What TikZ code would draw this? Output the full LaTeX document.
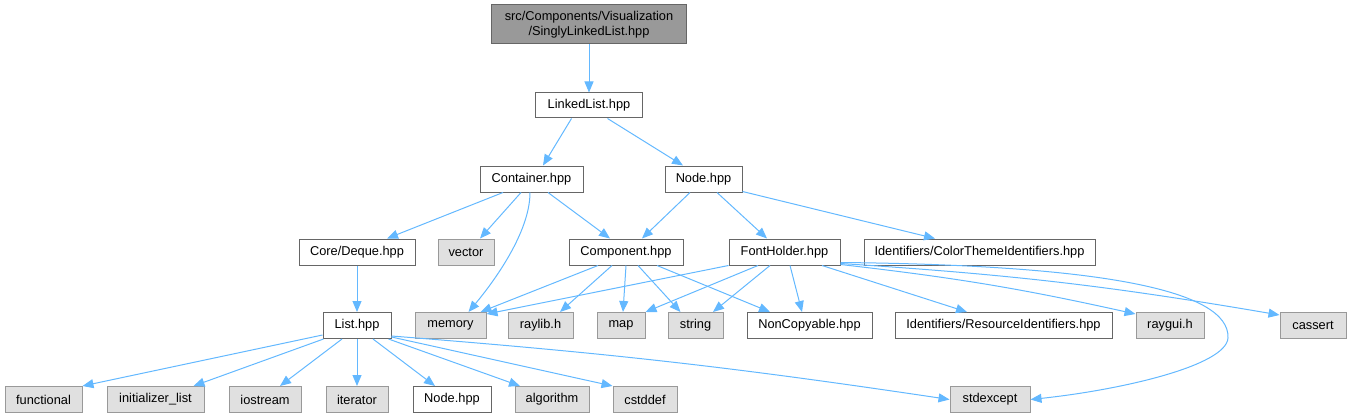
\documentclass[tikz,border=0pt]{standalone}
\usepackage{fontspec}
\setmainfont{Liberation Sans}
\usetikzlibrary{arrows.meta,calc}
\definecolor{cEdge}{HTML}{63B8FF}
\definecolor{cDark}{HTML}{666666}
\definecolor{cMid}{HTML}{999999}
\definecolor{cLight}{HTML}{E0E0E0}
\tikzset{
  base/.style={draw, line width=1pt, minimum height=26pt, inner sep=0pt,
    font=\fontsize{12.8}{15}\selectfont, text=black},
  intern/.style={base, draw=cDark, fill=white},
  ext/.style={base, draw=cMid, fill=cLight},
  rootnode/.style={base, draw=cDark, fill=cMid},
  edge/.style={draw=cEdge, line width=1pt, -{Triangle[length=11pt,width=9pt]}}
}
\begin{document}
\begin{tikzpicture}[x=1pt,y=-1pt]
\useasboundingbox (0,0) rectangle (1351,417);
% nodes
\node[rootnode, minimum width=195pt, minimum height=39pt, align=center] (sll) at (589,24.5) {src/Components/Visualization\\/SinglyLinkedList.hpp};
\node[intern, minimum width=107pt, minimum height=25pt] (ll) at (589,105.5) {LinkedList.hpp};
\node[intern, minimum width=103pt] (cont) at (531.5,179) {Container.hpp};
\node[intern, minimum width=77pt] (nodeA) at (703.5,179) {Node.hpp};
\node[intern, minimum width=116pt] (deque) at (357,252) {Core/Deque.hpp};
\node[ext, minimum width=56pt] (vector) at (466,252) {vector};
\node[intern, minimum width=114pt] (comp) at (626,252) {Component.hpp};
\node[intern, minimum width=111pt] (font) at (784.5,252) {FontHolder.hpp};
\node[intern, minimum width=231pt] (color) at (979.5,252) {Identifiers/ColorThemeIdentifiers.hpp};
\node[intern, minimum width=68pt] (list) at (357,325.5) {List.hpp};
\node[ext, minimum width=71pt] (memory) at (450.5,325.5) {memory};
\node[ext, minimum width=65pt] (raylib) at (540.5,325.5) {raylib.h};
\node[ext, minimum width=48pt] (map) at (621,325.5) {map};
\node[ext, minimum width=55pt] (string) at (695.5,325.5) {string};
\node[intern, minimum width=125pt] (noncopy) at (809.5,325.5) {NonCopyable.hpp};
\node[intern, minimum width=217pt] (resid) at (1003.5,325.5) {Identifiers/ResourceIdentifiers.hpp};
\node[ext, minimum width=68pt] (raygui) at (1170,325.5) {raygui.h};
\node[ext, minimum width=66pt] (cassert) at (1313,325.5) {cassert};
\node[ext, minimum width=77pt] (functional) at (43.5,399.5) {functional};
\node[ext, minimum width=97pt] (initlist) at (155.5,399.5) {initializer\_list};
\node[ext, minimum width=72pt] (iostream) at (265,399.5) {iostream};
\node[ext, minimum width=62pt] (iterator) at (357,399.5) {iterator};
\node[intern, minimum width=78pt] (nodeB) at (452,399.5) {Node.hpp};
\node[ext, minimum width=74pt] (algorithm) at (552,399.5) {algorithm};
\node[ext, minimum width=64pt] (cstddef) at (645,399.5) {cstddef};
\node[ext, minimum width=80pt] (stdexcept) at (990,399.5) {stdexcept};
% edges
\draw[edge] (sll) -- (ll);
\draw[edge] ([xshift=-17.5pt]ll.south) -- ([xshift=11.5pt]cont.north);
\draw[edge] ([xshift=18.5pt]ll.south) -- ([xshift=-20.5pt]nodeA.north);
\draw[edge] ([xshift=-28.5pt]cont.south) -- ([xshift=30pt]deque.north);
\draw[edge] ([xshift=-10.5pt]cont.south) -- ([xshift=14pt]vector.north);
\draw[edge] ([xshift=-1.5pt]cont.south) .. controls +(0,40) and +(25,-30) .. ([xshift=18pt]memory.north);
\draw[edge] ([xshift=16.5pt]cont.south) -- ([xshift=-16pt]comp.north);
\draw[edge] ([xshift=-13.5pt]nodeA.south) -- ([xshift=16pt]comp.north);
\draw[edge] ([xshift=13.5pt]nodeA.south) -- ([xshift=-17.5pt]font.north);
\draw[edge] ([yshift=1pt]nodeA.south east) -- ([xshift=-44.5pt]color.north);
\draw[edge] (deque) -- (list);
\draw[edge] ([xshift=-28pt]comp.south) -- ([xshift=-6pt]memory.north east);
\draw[edge] ([xshift=-14pt]comp.south) -- ([xshift=19.5pt]raylib.north);
\draw[edge] (comp.south) -- ([xshift=2pt]map.north);
\draw[edge] ([xshift=12pt]comp.south) -- ([xshift=-15pt]string.north);
\draw[edge] ([xshift=31pt]comp.south) -- ([xshift=-39.5pt]noncopy.north);
\draw[edge] (font.south west) -- ([yshift=-2pt]memory.north east);
\draw[edge] ([xshift=-26.5pt]font.south) -- (map.north east);
\draw[edge] ([xshift=-14.5pt]font.south) -- ([xshift=17.5pt]string.north);
\draw[edge] ([xshift=5.5pt]font.south) -- ([xshift=-7.5pt]noncopy.north);
\draw[edge] ([xshift=37.5pt]font.south) -- ([xshift=-36.5pt]resid.north);
\draw[edge] ([yshift=1pt]font.south east) to[bend left=3] ([yshift=-2pt]raygui.north west);
\draw[edge] ([yshift=2pt]font.south east) to[bend left=3] ([yshift=-3pt]cassert.north west);
\draw[edge] ([yshift=3pt]font.south east) .. controls (1100,265) and (1230,290) .. (1228,338) .. controls (1226,366) and (1120,390) .. (stdexcept.east);
\draw[edge] ([yshift=4pt]list.south west) -- (functional.north east);
\draw[edge] ([xshift=1pt]list.south west) -- ([xshift=38pt]initlist.north);
\draw[edge] ([xshift=-15pt]list.south) -- ([xshift=15pt]iostream.north);
\draw[edge] (list) -- (iterator);
\draw[edge] ([xshift=16pt]list.south) -- ([xshift=-17pt]nodeB.north);
\draw[edge] ([xshift=-3pt]list.south east) -- ([xshift=-32pt]algorithm.north);
\draw[edge] ([yshift=2pt]list.south east) -- (cstddef.north west);
\draw[edge] ([yshift=3pt]list.south east) to[bend left=2] (stdexcept.west);
\end{tikzpicture}
\end{document}
